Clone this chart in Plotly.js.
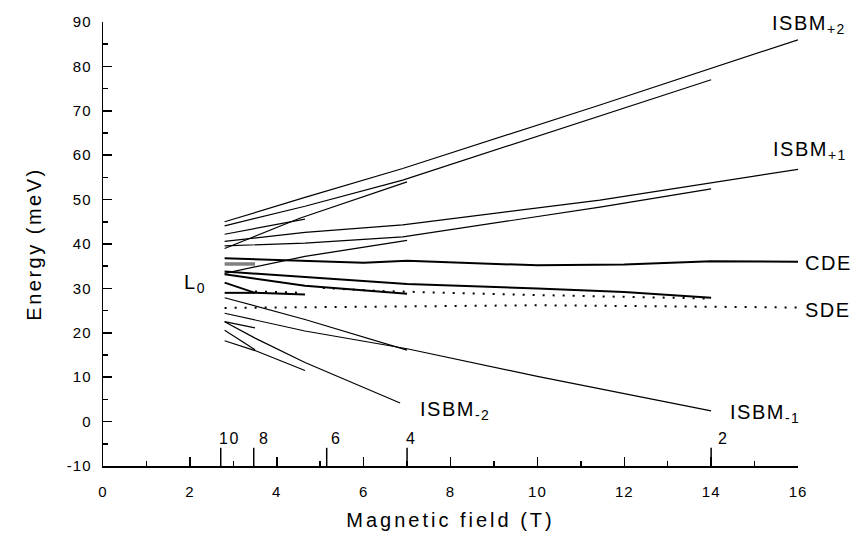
<!DOCTYPE html>
<html><head><meta charset="utf-8">
<script src="https://cdn.plot.ly/plotly-3.0.1.min.js"></script>
<style>
html,body{margin:0;padding:0;background:#fff;}
#chart{width:857px;height:543px;}
.xtitle{letter-spacing:3px;}
.ytitle{letter-spacing:2.5px;}
.xtick text,.ytick text{letter-spacing:1px;}
.annotation-text{letter-spacing:1.5px;}
</style></head><body><div id="chart"></div>
<script>
// ---- data (magnetic field in T, energy in meV) ----
const isbmP2a_x = [2.8, 4.65, 6.9, 11.44, 16];
const isbmP2a_y = [45.0, 50.5, 57.0, 71.3, 86.0];
const isbmP2b_x = [2.8, 4.65, 6.9, 11.44, 14];
const isbmP2b_y = [44.1, 48.5, 54.4, 68.8, 77.0];
const upShort_x = [2.8, 4.65];
const upShort_y = [42.2, 45.6];
const upRise_x = [2.8, 4.53, 7];
const upRise_y = [39.0, 45.8, 54.0];

const isbmP1a_x = [2.8, 4.65, 6.9, 11.44, 16];
const isbmP1a_y = [40.6, 42.6, 44.3, 49.9, 56.8];
const isbmP1b_x = [2.8, 4.65, 6.9, 11.44, 14];
const isbmP1b_y = [39.6, 40.2, 41.6, 48.3, 52.4];
const midRise_x = [2.8, 4.65, 7];
const midRise_y = [33.4, 37.2, 40.8];

const cde_x = [2.8, 4.65, 6, 7, 10, 12, 14, 16];
const cde_y = [36.8, 36.2, 35.8, 36.2, 35.2, 35.4, 36.1, 36.0];
const grey_x = [2.8, 3.5];
const grey_y = [35.5, 35.5];
const c2_x = [2.8, 4.65, 7, 10, 12, 14];
const c2_y = [33.8, 32.6, 31.0, 30.0, 29.2, 27.9];
const c3_x = [2.8, 4.65, 7];
const c3_y = [33.2, 30.6, 28.8];
const c4_x = [2.8, 3.5, 4.65];
const c4_y = [31.3, 29.0, 28.6];
const c5_x = [2.8, 3.5];
const c5_y = [29.0, 29.0];
const dot1_x = [3.5, 4.65];
const dot1_y = [29.3, 29.0];
const dot2_x = [5.06, 6.4, 10, 14];
const dot2_y = [30.1, 29.4, 28.5, 27.7];
const sde_x = [2.8, 5, 10, 16];
const sde_y = [25.6, 25.8, 26.2, 25.7];

const low1_x = [2.8, 4.65, 7];
const low1_y = [27.9, 23.0, 16.1];
const isbmM1_x = [2.8, 4.65, 7, 10, 14];
const isbmM1_y = [24.4, 20.4, 16.4, 10.2, 2.4];
const isbmM2_x = [2.8, 3.5, 4.65, 6.84];
const isbmM2_y = [22.5, 18.8, 13.3, 4.2];
const low3_x = [2.8, 3.5];
const low3_y = [22.5, 21.1];
const low4_x = [2.8, 3.5];
const low4_y = [20.6, 16.2];
const low2_x = [2.8, 3.5, 4.65];
const low2_y = [18.2, 16.0, 11.5];

// axis tick labels
const xTickVals = [0, 2, 4, 6, 8, 10, 12, 14, 16];
const xTickText = ['0', '2', '4', '6', '8', '10', '12', '14', '16'];
const yTickVals = [-10, 0, 10, 20, 30, 40, 50, 60, 70, 80, 90];
const yTickText = ['-10', '0', '10', '20', '30', '40', '50', '60', '70', '80', '90'];

// filling factor marks on the field axis
const nuTicks = [2.71, 3.47, 5.15, 7.0, 14.0];
const nuLabels = ['10', '8', '6', '4', '2'];
const nuLabelX = [2.92, 3.7, 5.36, 7.1, 14.27];

// curve labels
const labelText = ['ISBM<sub>+2</sub>', 'ISBM<sub>+1</sub>', 'CDE', 'SDE', 'ISBM<sub>-2</sub>', 'ISBM<sub>-1</sub>', 'L<sub>0</sub>'];
const labelPX = [0.960, 0.961, 1.007, 1.007, 0.453, 0.899, 0.113];
const labelPY = [0.995, 0.71, 0.458, 0.352, 0.125, 0.118, 0.41];

// ---- build traces ----
const FONT = 'Liberation Sans, Arial, sans-serif';
function ln(x, y, w, color, dash) {
  return {x: x, y: y, mode: 'lines', hoverinfo: 'skip', showlegend: false,
          line: {color: color || 'black', width: w || 1.2, dash: dash || 'solid'}};
}
const DOT = '2px,8px';
const traces = [
  ln(isbmP2a_x, isbmP2a_y), ln(isbmP2b_x, isbmP2b_y), ln(upShort_x, upShort_y), ln(upRise_x, upRise_y),
  ln(isbmP1a_x, isbmP1a_y), ln(isbmP1b_x, isbmP1b_y), ln(midRise_x, midRise_y),
  ln(grey_x, grey_y, 3.5, '#808080'),
  ln(cde_x, cde_y, 2), ln(c2_x, c2_y, 2), ln(c3_x, c3_y, 2), ln(c4_x, c4_y, 2), ln(c5_x, c5_y, 2),
  ln(dot1_x, dot1_y, 2, 'black', DOT), ln(dot2_x, dot2_y, 2, 'black', DOT), ln(sde_x, sde_y, 2, 'black', DOT),
  ln(low1_x, low1_y), ln(isbmM1_x, isbmM1_y), ln(isbmM2_x, isbmM2_y),
  ln(low3_x, low3_y), ln(low4_x, low4_y), ln(low2_x, low2_y)
];
// filling factor tick marks
const tx = [], ty = [];
nuTicks.forEach(t => { tx.push(t, t, null); ty.push(-10, -5.9, null); });
traces.push({x: tx, y: ty, mode: 'lines', hoverinfo: 'skip', showlegend: false,
             line: {color: 'black', width: 1.5}, cliponaxis: false});

const annotations = [];
nuLabels.forEach((s, i) => annotations.push({
  x: nuLabelX[i], y: -3.7, xref: 'x', yref: 'y', text: s, showarrow: false,
  xanchor: 'center', yanchor: 'middle', font: {family: FONT, size: 16, color: 'black'}
}));
labelText.forEach((s, i) => annotations.push({
  x: labelPX[i], y: labelPY[i], xref: 'paper', yref: 'paper', text: s, showarrow: false,
  xanchor: 'left', yanchor: 'middle', font: {family: FONT, size: 20, color: 'black'}
}));

const axisCommon = {
  showgrid: false, zeroline: false, showline: true, linecolor: 'black', linewidth: 1.5,
  ticks: 'inside', ticklen: 9, tickwidth: 1.5, tickcolor: 'black',
  tickfont: {family: FONT, size: 15, color: 'black'},
  mirror: false, fixedrange: true
};
const layout = {
  width: 857, height: 543,
  margin: {l: 103, r: 59, t: 22, b: 77},
  paper_bgcolor: 'white', plot_bgcolor: 'white',
  font: {family: FONT, color: 'black'},
  showlegend: false,
  xaxis: Object.assign({}, axisCommon, {
    range: [0, 16], tickmode: 'array', tickvals: xTickVals, ticktext: xTickText, ticklabelstandoff: 11,
    minor: {dtick: 1, tick0: 0, ticks: 'inside', ticklen: 5, tickwidth: 1.5, tickcolor: 'black'},
    title: {text: 'Magnetic field (T)', font: {family: FONT, size: 20, color: 'black'}, standoff: 14}
  }),
  yaxis: Object.assign({}, axisCommon, {
    range: [-10, 90], tickmode: 'array', tickvals: yTickVals, ticktext: yTickText, ticklabelstandoff: 7,
    minor: {dtick: 5, tick0: 0, ticks: 'inside', ticklen: 5, tickwidth: 1.5, tickcolor: 'black'},
    title: {text: 'Energy (meV)', font: {family: FONT, size: 20, color: 'black'}, standoff: 20}
  }),
  annotations: annotations
};
Plotly.newPlot('chart', traces, layout, {staticPlot: true, displayModeBar: false});
</script></body></html>
